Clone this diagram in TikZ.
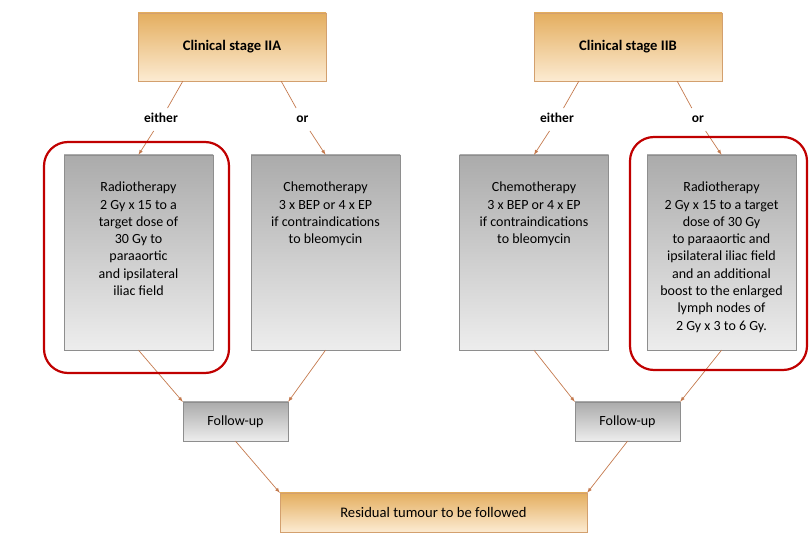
\documentclass[tikz,border=0pt]{standalone}
\usepackage{fontspec}
\setmainfont{Carlito}
\usepackage{tikz}
\definecolor{stagetop}{HTML}{E4AE5F}
\definecolor{stagebottom}{HTML}{FCEBD2}
\definecolor{stageline}{HTML}{D3A06E}
\definecolor{treattop}{HTML}{ABABAB}
\definecolor{treatbottom}{HTML}{EDEDED}
\definecolor{treatline}{HTML}{8E8E8E}
\definecolor{linkcolor}{HTML}{C47A4E}
\definecolor{markred}{HTML}{C00000}

\begin{document}
\begin{tikzpicture}[x=1pt,y=-1pt,
	stagebox/.style={draw=stageline, top color=stagetop, bottom color=stagebottom, inner sep=0pt, font=\fontsize{14.6}{17}\selectfont},
	treatbox/.style={draw=treatline, top color=treattop, bottom color=treatbottom, inner sep=0pt, font=\fontsize{14}{17.3}\selectfont},
	choice/.style={inner sep=5pt, text height=9.5pt, text depth=3pt, font=\bfseries\fontsize{13.5}{16}\selectfont},
	link/.style={draw=linkcolor, line width=0.7pt},
	highlight/.style={draw=markred, line width=2.2pt, rounded corners=24pt}]
	\newcommand{\treattext}[1]{\parbox[c][195pt][t]{149pt}{\centering\vspace*{27pt}#1}}
	\useasboundingbox (0,0) rectangle (809,534);
	% stages
	\node [stagebox, minimum width=188pt, minimum height=68pt] (stageA) at (232,47) {\textbf{Clinical stage IIA}};
	\node [stagebox, minimum width=188pt, minimum height=68pt] (stageB) at (628,47) {\textbf{Clinical stage IIB}};
	% treatments
	\foreach
	\name/\xpos/\content
	in
	{
		radA/138.5/{Radiotherapy\\2 Gy x 15 to a\\target dose of\\30 Gy to\\paraaortic\\and ipsilateral\\iliac field},
		chemoA/325.5/{Chemotherapy\\3 x BEP or 4 x EP\\if contraindications\\to bleomycin},
		chemoB/534/{Chemotherapy\\3 x BEP or 4 x EP\\if contraindications\\to bleomycin},
		radB/721.5/{Radiotherapy\\2 Gy x 15 to a target\\dose of 30 Gy\\to paraaortic and\\ipsilateral iliac field\\and an additional\\boost to the enlarged\\lymph nodes of\\2 Gy x 3 to 6 Gy.}
	}
	{
		\node [treatbox] (\name) at (\xpos,252.5) {\treattext{\content}};
	}
	% follow-up
	\node [treatbox, minimum width=105pt, minimum height=39pt] (followA) at (235.5,421.5) {Follow-up};
	\node [treatbox, minimum width=105pt, minimum height=39pt] (followB) at (627.5,421.5) {Follow-up};
	\node [stagebox, minimum width=307pt, minimum height=39pt] (residual) at (433.5,512.5) {Residual tumour to be followed};
	% either / or
	\foreach \name/\xpos/\word in {eitherA/161/either, orA/302.5/or, eitherB/557/either, orB/698/or}
	{
		\node [choice] (\name) at (\xpos,119.5) {\word};
	}
	\draw [link, -latex] ([xshift=45pt]stageA.south west) -- (eitherA) -- (radA.north);
	\draw [link, -latex] ([xshift=-45pt]stageA.south east) -- (orA) -- (chemoA.north);
	\draw [link, -latex] ([xshift=45pt]stageB.south west) -- (eitherB) -- (chemoB.north);
	\draw [link, -latex] ([xshift=-45pt]stageB.south east) -- (orB) -- (radB.north);
	\foreach \from/\to in {radA/followA.north west, chemoA/followA.north east, chemoB/followB.north west, radB/followB.north east, followA/residual.north west, followB/residual.north east}
	{
		\draw [link, -latex] (\from.south) -- (\to);
	}
	% highlighted options
	\draw [highlight] (44,142) rectangle (229,373);
	\draw [highlight] (630,137) rectangle (807,370);
\end{tikzpicture}
\end{document}
